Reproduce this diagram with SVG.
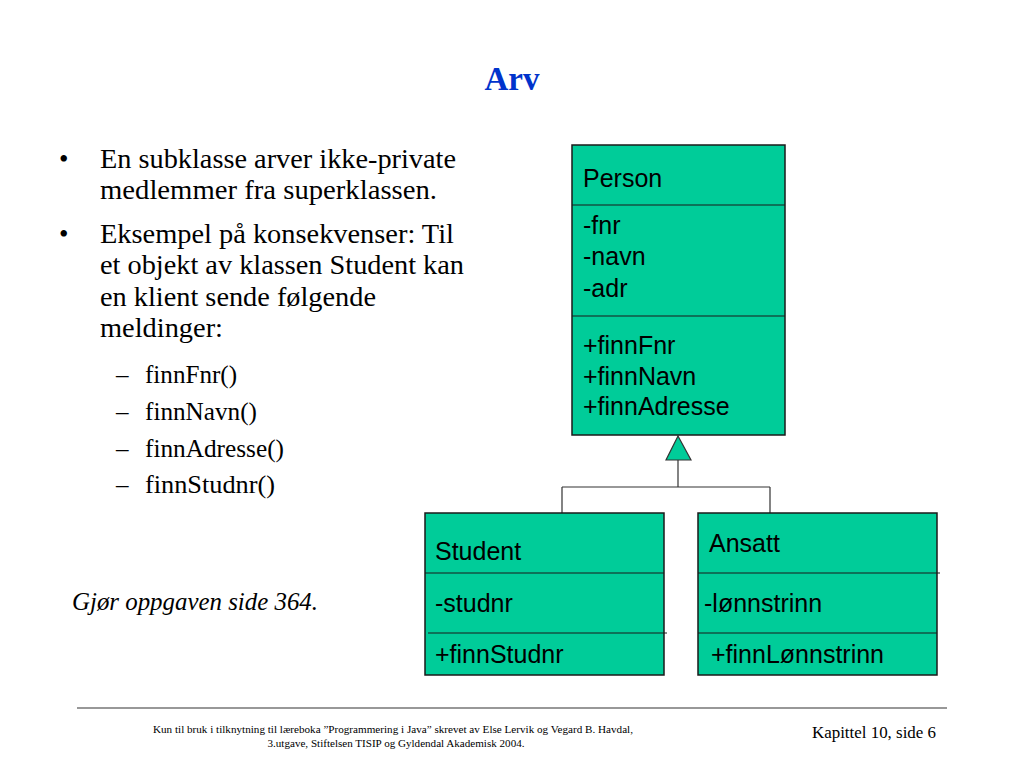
<svg xmlns="http://www.w3.org/2000/svg" width="1024" height="768" viewBox="0 0 1024 768">
<style>
.box{fill:#00CC99;stroke:#1a1a1a;stroke-width:1.5}
.div{stroke:#1a1a1a;stroke-width:1.2}
.cls{font-family:"Liberation Sans",Arial,sans-serif;font-size:25px;fill:#000}
.ser{font-family:"Liberation Serif","Times New Roman",serif;fill:#000}
.conn{stroke:#333;stroke-width:1.2;fill:none}
</style>
<rect width="1024" height="768" fill="#fff"/>
<text x="512" y="90" text-anchor="middle" font-family="Liberation Serif, Times New Roman, serif" font-size="33" font-weight="bold" fill="#0033CC">Arv</text>
<g id="text-left" class="ser" font-size="27">
<text x="59" y="168">•</text>
<text x="100" y="168" textLength="356" lengthAdjust="spacingAndGlyphs">En subklasse arver ikke-private</text>
<text x="100" y="199" textLength="337" lengthAdjust="spacingAndGlyphs">medlemmer fra superklassen.</text>
<text x="59" y="243">•</text>
<text x="100" y="243" textLength="354" lengthAdjust="spacingAndGlyphs">Eksempel på konsekvenser: Til</text>
<text x="100" y="274" textLength="364" lengthAdjust="spacingAndGlyphs">et objekt av klassen Student kan</text>
<text x="100" y="306" textLength="276" lengthAdjust="spacingAndGlyphs">en klient sende følgende</text>
<text x="100" y="337" textLength="123" lengthAdjust="spacingAndGlyphs">meldinger:</text>
<g font-size="25">
<text x="116" y="383">–</text><text x="145" y="383" textLength="92" lengthAdjust="spacingAndGlyphs">finnFnr()</text>
<text x="116" y="420">–</text><text x="145" y="420" textLength="112" lengthAdjust="spacingAndGlyphs">finnNavn()</text>
<text x="116" y="457">–</text><text x="145" y="457" textLength="139" lengthAdjust="spacingAndGlyphs">finnAdresse()</text>
<text x="116" y="493">–</text><text x="145" y="493" textLength="130" lengthAdjust="spacingAndGlyphs">finnStudnr()</text>
</g>
</g>
<text x="72" y="610" class="ser" font-size="24.5" font-style="italic" textLength="246" lengthAdjust="spacingAndGlyphs">Gjør oppgaven side 364.</text>
<g id="connectors">
<path class="conn" d="M678 460 V487 M562 487 H770 M562 487 V513 M770 487 V513"/>
<polygon points="678,436 666,460 691,460" fill="#00CC99" stroke="#333" stroke-width="1.2"/>
</g>
<g id="person">
<rect class="box" x="572" y="145" width="213" height="290"/>
<line class="div" x1="572" y1="205" x2="785" y2="205"/>
<line class="div" x1="572" y1="316" x2="785" y2="316"/>
<text class="cls" x="583" y="187">Person</text>
<text class="cls" x="583" y="234">-fnr</text>
<text class="cls" x="583" y="265">-navn</text>
<text class="cls" x="583" y="297">-adr</text>
<text class="cls" x="583" y="354">+finnFnr</text>
<text class="cls" x="583" y="385">+finnNavn</text>
<text class="cls" x="583" y="415">+finnAdresse</text>
</g>
<g id="student">
<rect class="box" x="425" y="513" width="239" height="162"/>
<line class="div" x1="425" y1="573" x2="664" y2="573"/>
<line class="div" x1="428" y1="633" x2="667" y2="633"/>
<text class="cls" x="435" y="560">Student</text>
<text class="cls" x="435" y="612">-studnr</text>
<text class="cls" x="435" y="663">+finnStudnr</text>
</g>
<g id="ansatt">
<rect class="box" x="698" y="513" width="239" height="162"/>
<line class="div" x1="698" y1="573" x2="940" y2="573"/>
<line class="div" x1="698" y1="633" x2="937" y2="633"/>
<text class="cls" x="709" y="552">Ansatt</text>
<text class="cls" x="704" y="612">-lønnstrinn</text>
<text class="cls" x="711" y="663">+finnLønnstrinn</text>
</g>
<line x1="77" y1="708" x2="947" y2="708" stroke="#333" stroke-width="1.2"/>
<g class="ser" font-size="11" text-anchor="middle">
<text x="393" y="733" textLength="480" lengthAdjust="spacingAndGlyphs">Kun til bruk i tilknytning til læreboka ”Programmering i Java” skrevet av Else Lervik og Vegard B. Havdal,</text>
<text x="396" y="747" textLength="257" lengthAdjust="spacingAndGlyphs">3.utgave, Stiftelsen TISIP og Gyldendal Akademisk 2004.</text>
</g>
<text x="936" y="738" class="ser" font-size="16.5" text-anchor="end" textLength="124" lengthAdjust="spacingAndGlyphs">Kapittel 10, side 6</text>
</svg>
